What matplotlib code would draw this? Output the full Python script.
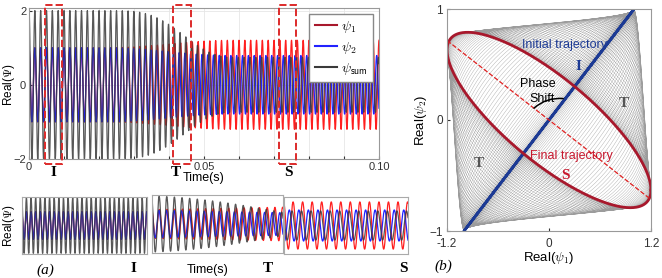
import numpy as np
import matplotlib
matplotlib.use("Agg")
import matplotlib.pyplot as plt
from matplotlib.patches import Rectangle
from matplotlib.lines import Line2D

plt.rcParams['font.family'] = ['Liberation Sans', 'DejaVu Sans']
plt.rcParams['mathtext.fontset'] = 'cm'

# signal parameters
freq = 600.0                 # Hz, about 60 cycles in 0.1 s
amp_start = [1.0, 1.0]       # psi1, psi2 before the transition
amp_end = [1.2, 0.79]        # psi1, psi2 after the transition
phase_end_deg = 143.0        # final phase shift of psi2
t_trans = [0.022, 0.058]     # transition start / end (s)

t_ticks = [0, 0.01, 0.02, 0.03, 0.04, 0.05, 0.06, 0.07, 0.08, 0.09, 0.10]
t_ticklabels = ['0', '', '', '', '', '0.05', '', '', '', '', '0.10']
y_ticks = [-2, 0, 2]

# zoom windows marked in the top plot (s)
box_names = ['I', 'T', 'S']
box_t = [(0.0046, 0.0094), (0.0411, 0.0463), (0.0714, 0.0763)]

# bottom panels: number of cycles, transition fraction at start/end, y range
panel_cycles = [27, 17, 13]
panel_s = [(0.0, 0.0), (0.1, 0.95), (1.0, 1.0)]
panel_ylim = [2.05, 2.05, 1.45]

n_portrait_cycles = 70

red = '#ff1f1f'
blue = '#2222ff'
gray = '#3a3a3a'
dred = '#a8182c'
dblue = '#1c3a94'


def smooth_step(t):
    x = np.clip((t - t_trans[0]) / (t_trans[1] - t_trans[0]), 0, 1)
    return 0.5 * (1 - np.cos(np.pi * x))


def signals(phase, s):
    a1 = amp_start[0] + (amp_end[0] - amp_start[0]) * s
    a2 = amp_start[1] + (amp_end[1] - amp_start[1]) * s
    phi = np.deg2rad(phase_end_deg) * s
    p1 = a1 * np.cos(phase)
    p2 = a2 * np.cos(phase + phi)
    return p1, p2, p1 + p2


fig = plt.figure(figsize=(6.62, 2.78), dpi=100)

# ---- top left: time series
ax = fig.add_axes([29/662, 1-159/278, 350/662, 151/278])
t = np.linspace(0, 0.1, 30000)
p1, p2, ps = signals(2*np.pi*freq*t, smooth_step(t))
ax.plot(t, p1, color=red, lw=0.9)
ax.plot(t, p2, color=blue, lw=0.9)
ax.plot(t, ps, color=gray, lw=0.9, alpha=0.85)
ax.set_xlim(0, 0.1)
ax.set_ylim(-2, 2.07)
ax.set_xticks(t_ticks)
ax.set_xticklabels(t_ticklabels)
ax.set_yticks(y_ticks)
ax.tick_params(direction='in', length=2, labelsize=8, pad=2, colors='#333333')
ax.grid(True, color='#e6e6e6', lw=0.6)
for sp in ax.spines.values():
    sp.set_color('#999999')
ax.set_xlabel('Time(s)', fontsize=9, labelpad=0)
fig.text(9/662, 1-85/278, r'Real($\Psi$)', rotation=90, fontsize=8.5,
         ha='center', va='center')
for (a, b) in box_t:
    ax.add_patch(Rectangle((a, -2.14), b - a, 4.29, fill=False, ls='--',
                           lw=1.4, ec='#dd2a2a', clip_on=False, zorder=5))
for name, (a, b), xp in zip(box_names, box_t, [53, 176, 288]):
    fig.text(xp/662, 1-172/278, name, family='Liberation Serif',
             weight='bold', fontsize=11, ha='center', va='center')
handles = [Line2D([], [], color=dred, lw=1.5),
           Line2D([], [], color=blue, lw=1.5),
           Line2D([], [], color=gray, lw=1.5)]
leg = ax.legend(handles, [r'$\psi_1$', r'$\psi_2$', r'$\psi_{\mathsf{sum}}$'],
                loc='upper right', fontsize=10, handlelength=1.6,
                handletextpad=0.3, borderaxespad=0.4, labelspacing=0.35,
                fancybox=False, framealpha=1, edgecolor='#888888')

# ---- bottom panels
pos = [[22, 197, 125, 57], [152, 195, 131, 58], [284, 197, 124, 57]]
for k in range(3):
    x0, y0, w, h = pos[k]
    bx = fig.add_axes([x0/662, 1-(y0+h)/278, w/662, h/278])
    ph = np.linspace(0, 2*np.pi*panel_cycles[k], 4000)
    s = np.linspace(panel_s[k][0], panel_s[k][1], ph.size)
    q1, q2, qs = signals(ph + 0.3, s)
    bx.plot(ph, q1, color=red, lw=0.9)
    bx.plot(ph, q2, color=blue, lw=0.9)
    bx.plot(ph, qs, color=gray, lw=0.9, alpha=0.85)
    bx.set_xlim(ph[0], ph[-1])
    bx.set_ylim(-panel_ylim[k], panel_ylim[k])
    bx.set_xticks([])
    bx.set_yticks([])
    for sp in bx.spines.values():
        sp.set_color('#aaaaaa')

fig.text(9/662, 1-226/278, r'Real($\Psi$)', rotation=90, fontsize=8.5,
         ha='center', va='center')
fig.text(45/662, 1-270/278, '(a)', family='Liberation Serif', style='italic',
         fontsize=11, ha='center', va='center')
fig.text(133/662, 1-268/278, 'I', family='Liberation Serif', weight='bold',
         fontsize=11, ha='center', va='center')
fig.text(208/662, 1-270/278, 'Time(s)', fontsize=9, ha='center', va='center')
fig.text(268/662, 1-268/278, 'T', family='Liberation Serif', weight='bold',
         fontsize=11, ha='center', va='center')
fig.text(403/662, 1-268/278, 'S', family='Liberation Serif', weight='bold',
         fontsize=11, ha='center', va='center')
fig.text(443/662, 1-266/278, '(b)', family='Liberation Serif', style='italic',
         fontsize=11, ha='center', va='center')

# ---- right: phase portrait
rx = fig.add_axes([447/662, 1-231/278, 204/662, 222/278])
ph = np.linspace(0, 2*np.pi*n_portrait_cycles, n_portrait_cycles*200)
s = 0.5 * (1 - np.cos(np.pi * ph / ph[-1]))
g1, g2, _ = signals(ph, s)
rx.plot(g1, g2, color='#5a5a5a', lw=0.25, alpha=0.6)
th = np.linspace(0, 2*np.pi, 600)
i1, i2, _ = signals(th, np.zeros_like(th))
rx.plot(i1, i2, color=dblue, lw=2)
f1, f2, _ = signals(th, np.ones_like(th))
rx.plot(f1, f2, color=dred, lw=2)
k = np.argmax(f1**2 + f2**2)
rx.plot([f1[k], -f1[k]], [f2[k], -f2[k]], color='#e02020', ls='--', lw=0.9)
rx.annotate('', xy=(0.2, 0.19), xytext=(-0.2, 0.09),
            arrowprops=dict(arrowstyle='-', lw=1.1, color='k',
                            connectionstyle='arc3,rad=-0.25'))
rx.text(0.18, 0.68, 'Initial trajectory', color=dblue, fontsize=9,
        ha='center', va='center')
rx.text(0.35, 0.48, 'I', color=dblue, family='Liberation Serif',
        weight='bold', fontsize=11, ha='center', va='center')
rx.text(-0.13, 0.32, 'Phase', fontsize=9, ha='center', va='center')
rx.text(-0.08, 0.19, 'Shift', fontsize=9, ha='center', va='center')
rx.text(0.88, 0.15, 'T', color='#555555', family='Liberation Serif',
        weight='bold', fontsize=11, ha='center', va='center')
rx.text(-0.83, -0.39, 'T', color='#555555', family='Liberation Serif',
        weight='bold', fontsize=11, ha='center', va='center')
rx.text(0.26, -0.32, 'Final trajectory', color='#c8182e', fontsize=9,
        ha='center', va='center')
rx.text(0.19, -0.5, 'S', color='#c8182e', family='Liberation Serif',
        weight='bold', fontsize=11, ha='center', va='center')
rx.set_xlim(-1.2, 1.2)
rx.set_ylim(-1, 1)
rx.set_xticks([-1.2, 0, 1.2])
rx.set_xticklabels(['-1.2', '0', '1.2'])
rx.set_yticks([-1, 0, 1])
rx.tick_params(direction='in', length=2, labelsize=8.5, colors='#333333')
rx.tick_params(axis='x', pad=5)
rx.tick_params(axis='y', pad=3)
for sp in rx.spines.values():
    sp.set_color('#999999')
rx.set_xlabel(r'Real($\psi_1$)', fontsize=9.5, labelpad=0)
rx.set_ylabel(r'Real($\psi_2$)', fontsize=9.5, labelpad=0)

fig.savefig('out.png', dpi=100)
